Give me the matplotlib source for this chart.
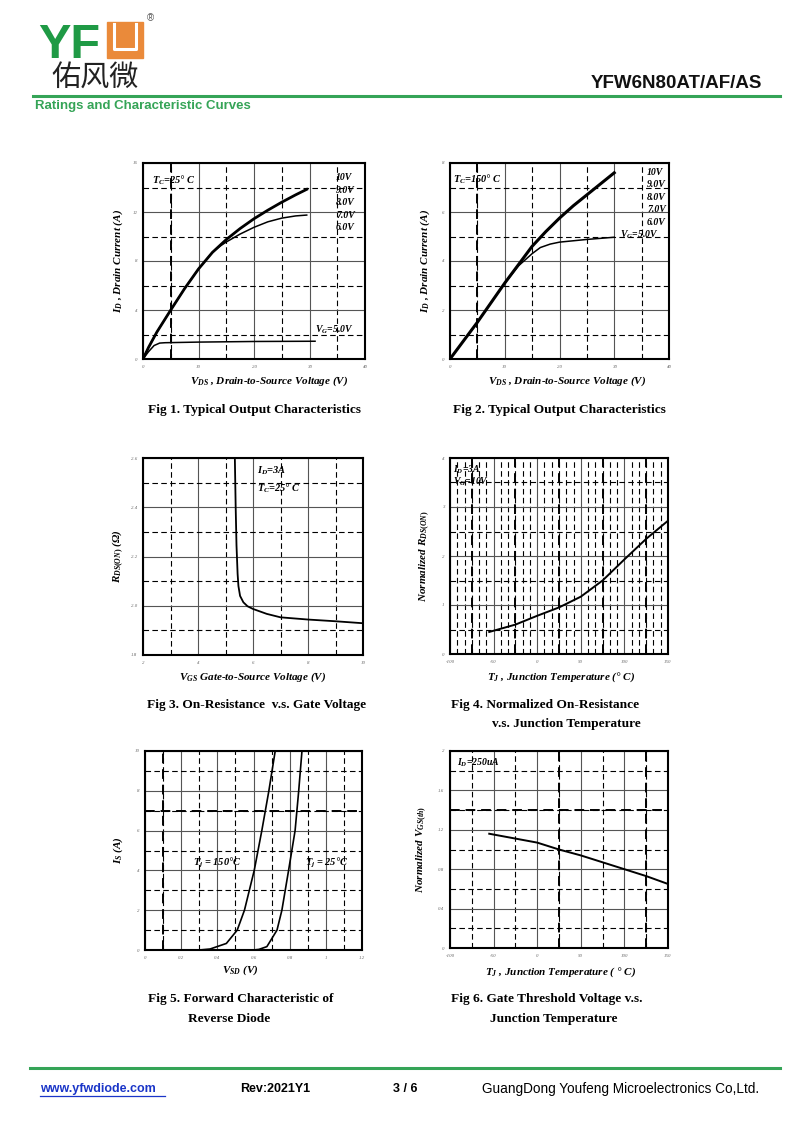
import matplotlib
matplotlib.use('Agg')
import matplotlib.pyplot as plt
from matplotlib.ticker import MultipleLocator
from matplotlib.patches import Rectangle
from matplotlib.lines import Line2D

plt.rcParams['font.family'] = ['Liberation Serif', 'DejaVu Serif']
plt.rcParams['mathtext.fontset'] = 'custom'
plt.rcParams['mathtext.rm'] = 'Liberation Serif:bold'
plt.rcParams['mathtext.it'] = 'Liberation Serif:bold:italic'
plt.rcParams['mathtext.bf'] = 'Liberation Serif:bold'

# ---- data ----
# Fig 1, Tc = 25 C
f1_vds_hi = [0, 1, 2.5, 5, 7.5, 10, 12.5, 15, 17.5, 20, 22.5, 25, 27.5, 29.5]
f1_id_hi = [0, 0.95, 2.2, 4.0, 5.75, 7.35, 8.7, 9.75, 10.65, 11.45, 12.15, 12.8, 13.4, 13.85]
f1_vds_6v = [0, 1, 2.5, 5, 7.5, 10, 12.5, 14, 15, 17.5, 20, 22.5, 25, 27.5, 29.5]
f1_id_6v = [0, 0.95, 2.2, 4.0, 5.75, 7.35, 8.7, 9.25, 9.55, 10.2, 10.75, 11.2, 11.5, 11.68, 11.75]
f1_vds_5v = [0, 1, 2, 3, 4, 10, 20, 31]
f1_id_5v = [0, 0.6, 1.1, 1.3, 1.33, 1.38, 1.43, 1.45]
f1_vgs = ['10V', '9.0V', '8.0V', '7.0V', '6.0V']

# Fig 2, Tc = 150 C
f2_vds_hi = [0, 2.5, 5, 7.5, 10, 12.5, 15, 17.5, 20, 22.5, 25, 27.5, 30]
f2_id_hi = [0, 0.75, 1.5, 2.3, 3.1, 3.85, 4.6, 5.2, 5.75, 6.25, 6.7, 7.15, 7.6]
f2_vds_5v = [0, 2.5, 5, 7.5, 10, 12.5, 15, 16.5, 18.3, 20, 25, 30]
f2_id_5v = [0, 0.75, 1.5, 2.3, 3.1, 3.8, 4.3, 4.55, 4.69, 4.77, 4.88, 4.97]
f2_vgs = ['10V', '9.0V', '8.0V', '7.0V', '6.0V']

# Fig 3, Rds(on) vs Vgs
f3_vgs = [5.34, 5.37, 5.40, 5.44, 5.47, 5.53, 5.65, 5.8, 6.0, 6.5, 7.0, 8.0, 9.0, 10.0]
f3_rds = [2.6, 2.4, 2.245, 2.13, 2.08, 2.04, 2.014, 1.998, 1.987, 1.967, 1.953, 1.944, 1.937, 1.929]

# Fig 4, normalized Rds(on) vs Tj
f4_tj = [-55, -25, 0, 25, 50, 75, 100, 125, 150]
f4_rn = [0.45, 0.6, 0.78, 0.95, 1.17, 1.5, 1.93, 2.35, 2.72]

# Fig 5, body diode forward
f5_vsd_150 = [0.30, 0.36, 0.45, 0.51, 0.55, 0.604, 0.646, 0.685, 0.72]
f5_is_150 = [0.0, 0.05, 0.33, 1.0, 2.0, 4.0, 6.0, 8.0, 10.0]
f5_vsd_25 = [0.60, 0.63, 0.674, 0.73, 0.757, 0.794, 0.83, 0.85, 0.868]
f5_is_25 = [0.0, 0.03, 0.17, 1.0, 2.0, 4.0, 6.0, 8.0, 10.0]

# Fig 6, normalized Vgs(th) vs Tj
f6_tj = [-55, 0, 25, 50, 75, 100, 125, 150]
f6_vn = [1.16, 1.07, 1.0, 0.94, 0.87, 0.80, 0.73, 0.65]

# tick labels
f1_xt = ['0', '10', '20', '30', '40']
f1_yt = ['0', '4', '8', '12', '16']
f2_yt = ['0', '2', '4', '6', '8']
f3_xt = ['2', '4', '6', '8', '10']
f3_yt = ['1.8', '2.0', '2.2', '2.4', '2.6']
f4_xt = ['-100', '-50', '0', '50', '100', '150']
f4_yt = ['0', '1', '2', '3', '4']
f5_xt = ['0', '0.2', '0.4', '0.6', '0.8', '1', '1.2']
f5_yt = ['0', '2', '4', '6', '8', '10']
f6_yt = ['0', '0.4', '0.8', '1.2', '1.6', '2']

W, H = 800, 1130
fig = plt.figure(figsize=(8, 11.3), dpi=100)
GREEN = '#35a457'


def fx(x):
    return x / W


def fy(y):
    return 1 - y / H


def make_ax(l, t, r, b):
    return fig.add_axes([fx(l), fy(b), (r - l) / W, (b - t) / H])


def frame(ax, xticks, xlabels, yticks, ylabels, xminor, yminor):
    ax.set_xlim(xticks[0], xticks[-1])
    ax.set_ylim(yticks[0], yticks[-1])
    ax.set_xticks(xticks, xlabels)
    ax.set_yticks(yticks, ylabels)
    ax.xaxis.set_minor_locator(MultipleLocator(xminor))
    ax.yaxis.set_minor_locator(MultipleLocator(yminor))
    ax.grid(which='major', color='#555555', lw=0.8, ls='-')
    ax.grid(which='minor', color='black', lw=0.8, ls=(0, (5, 3)))
    ax.set_axisbelow(True)
    ax.tick_params(which='both', length=0, labelsize=3.5, labelcolor='#666666', pad=4)
    for lbl in ax.get_xticklabels() + ax.get_yticklabels():
        lbl.set_fontstyle('italic')
    for s in ax.spines.values():
        s.set_linewidth(1.5)


def labels(ax, xl, yl, xpos, xoff, yoff):
    ax.set_xlabel(xl, fontsize=8, fontweight='bold', fontstyle='italic', va='center')
    ax.set_ylabel(yl, fontsize=8, fontweight='bold', fontstyle='italic', va='center')
    ax.xaxis.set_label_coords(xpos, xoff)
    ax.yaxis.set_label_coords(yoff, 0.5)


def note(ax, x, y, s, size=7.5, **kw):
    ax.text(x, y, s, fontsize=size, fontweight='bold', fontstyle='italic', va='center', **kw)


bold_dash = dict(color='black', lw=1.4, ls=(0, (5, 3)))

# ---- Fig 1 ----
ax1 = make_ax(143, 163, 365, 359)
frame(ax1, [0, 10, 20, 30, 40], f1_xt, [0, 4, 8, 12, 16], f1_yt, 5, 2)
ax1.axvline(5, **bold_dash)
ax1.plot(f1_vds_hi, f1_id_hi, color='black', lw=2.0)
ax1.plot(f1_vds_6v, f1_id_6v, color='black', lw=1.1)
ax1.plot(f1_vds_5v, f1_id_5v, color='black', lw=1.1)
for i, s in enumerate(f1_vgs):
    note(ax1, 34.8, 14.8 - i * 1.02, s, size=7)
note(ax1, 31.0, 2.4, r'$V_G$=5.0V', size=7)
note(ax1, 1.6, 14.6, r'$T_C$=25° C')
labels(ax1, r'$V_{DS}$ , Drain-to-Source Voltage (V)', r'$I_D$ , Drain Current (A)', 0.57, -0.112, -0.113)

# ---- Fig 2 ----
ax2 = make_ax(450, 163, 669, 359)
frame(ax2, [0, 10, 20, 30, 40], f1_xt, [0, 2, 4, 6, 8], f2_yt, 5, 1)
ax2.axvline(5, **bold_dash)
ax2.plot(f2_vds_hi, f2_id_hi, color='black', lw=2.2)
ax2.plot(f2_vds_5v, f2_id_5v, color='black', lw=1.1)
for i, s in enumerate(f2_vgs):
    note(ax2, 36.0, 7.63 - i * 0.51, s, size=7)
note(ax2, 31.0, 5.06, r'$V_G$=5.0V', size=7)
note(ax2, 0.6, 7.35, r'$T_C$=150° C')
labels(ax2, r'$V_{DS}$ , Drain-to-Source Voltage (V)', r'$I_D$ , Drain Current (A)', 0.535, -0.112, -0.114)

# ---- Fig 3 ----
ax3 = make_ax(143, 458, 363, 655)
frame(ax3, [2, 4, 6, 8, 10], f3_xt, [1.8, 2.0, 2.2, 2.4, 2.6], f3_yt, 1, 0.1)
ax3.plot(f3_vgs, f3_rds, color='black', lw=1.3)
note(ax3, 6.15, 2.547, r'$I_D$=3A')
note(ax3, 6.15, 2.478, r'$T_C$=25° C')
labels(ax3, r'$V_{GS}$ Gate-to-Source Voltage (V)', r'$R_{DS(ON)}$ (Ω)', 0.5, -0.112, -0.113)

# ---- Fig 4 ----
ax4 = make_ax(450, 458, 668, 654)
frame(ax4, [-100, -50, 0, 50, 100, 150], f4_xt, [0, 1, 2, 3, 4], f4_yt, 50 / 6, 0.5)
for t in [-75, -25, 25, 75, 125]:
    ax4.axvline(t, **bold_dash)
ax4.plot(f4_tj, f4_rn, color='black', lw=1.4)
note(ax4, -97, 3.75, r'$I_D$=3A', size=7)
note(ax4, -97, 3.51, r'$V_G$=10V', size=7)
labels(ax4, r'$T_J$ , Junction Temperature (° C)', r'Normalized $R_{DS(ON)}$', 0.51, -0.117, -0.117)

# ---- Fig 5 ----
ax5 = make_ax(145, 751, 362, 950)
frame(ax5, [0, 0.2, 0.4, 0.6, 0.8, 1.0, 1.2], f5_xt, [0, 2, 4, 6, 8, 10], f5_yt, 0.1, 1)
ax5.axvline(0.1, **bold_dash)
ax5.axhline(7, **bold_dash)
ax5.plot(f5_vsd_150, f5_is_150, color='black', lw=1.2)
ax5.plot(f5_vsd_25, f5_is_25, color='black', lw=1.2)
note(ax5, 0.265, 4.35, r'$T_j$ = 150°C')
note(ax5, 0.885, 4.35, r'$T_j$ = 25°C')
labels(ax5, r'$V_{SD}$ (V)', r'$I_S$ (A)', 0.44, -0.1, -0.124)

# ---- Fig 6 ----
ax6 = make_ax(450, 751, 668, 948)
frame(ax6, [-100, -50, 0, 50, 100, 150], f4_xt, [0, 0.4, 0.8, 1.2, 1.6, 2.0], f6_yt, 25, 0.2)
ax6.axvline(25, **bold_dash)
ax6.axvline(125, **bold_dash)
ax6.axhline(1.4, **bold_dash)
ax6.plot(f6_tj, f6_vn, color='black', lw=1.4)
note(ax6, -92, 1.88, r'$I_D$=250uA', size=7)
labels(ax6, r'$T_J$ , Junction Temperature ( ° C)', r'Normalized $V_{GS(th)}$', 0.505, -0.122, -0.128)

# ---- captions ----
cap = dict(fontsize=9.6, fontweight='bold', ha='center', va='center')
fig.text(fx(255), fy(410), 'Fig 1. Typical Output Characteristics', **cap)
fig.text(fx(559), fy(410), 'Fig 2. Typical Output Characteristics', **cap)
fig.text(fx(257), fy(705), 'Fig 3. On-Resistance  v.s. Gate Voltage', **cap)
fig.text(fx(545), fy(705), 'Fig 4. Normalized On-Resistance', **cap)
fig.text(fx(566), fy(724), 'v.s. Junction Temperature', **cap)
fig.text(fx(241), fy(999), 'Fig 5. Forward Characteristic of', **cap)
fig.text(fx(229), fy(1019), 'Reverse Diode', **cap)
fig.text(fx(547), fy(999), 'Fig 6. Gate Threshold Voltage v.s.', **cap)
fig.text(fx(554), fy(1019), 'Junction Temperature', **cap)

# ---- header ----
fig.text(fx(38), fy(58), 'YF', fontsize=35, fontweight='bold', color='#1f9a45',
         family='Liberation Sans', va='baseline')
fig.patches.append(Rectangle((fx(107), fy(58)), 36 / W, 36 / H, transform=fig.transFigure,
                             color='#ea8a3a'))
fig.lines.append(Line2D([fx(114), fx(114), fx(136), fx(136)], [fy(24), fy(49), fy(49), fy(24)],
                        transform=fig.transFigure, color='white', lw=2.2))
fig.text(fx(150), fy(18), '®', fontsize=7, color='#555555', family='Liberation Sans',
         ha='center', va='center')
fig.text(fx(95), fy(79), '佑风微', fontsize=21, color='#222222', family='Noto Sans CJK SC',
         ha='center', va='center')
fig.text(fx(762), fy(83), 'YFW6N80AT/AF/AS', fontsize=13.5, fontweight='bold',
         family='Liberation Sans', ha='right', va='center', color='#111111')
fig.lines.append(Line2D([fx(33), fx(780)], [fy(96), fy(96)], transform=fig.transFigure,
                        color=GREEN, lw=2.2))
fig.text(fx(35), fy(106), 'Ratings and Characteristic Curves', fontsize=9.5, fontweight='bold',
         family='Liberation Sans', color=GREEN, va='center')

# ---- footer ----
fig.lines.append(Line2D([fx(30), fx(780)], [fy(1068), fy(1068)], transform=fig.transFigure,
                        color=GREEN, lw=2.2))
foot = dict(fontsize=9, family='Liberation Sans', va='center')
fig.text(fx(40), fy(1089), 'www.yfwdiode.com', color='#1a35c8', fontweight='bold', **foot)
fig.lines.append(Line2D([fx(40), fx(165)], [fy(1096), fy(1096)], transform=fig.transFigure,
                        color='#1a35c8', lw=0.9))
fig.text(fx(240), fy(1089), 'Rev:2021Y1', fontweight='bold', **foot)
fig.text(fx(393), fy(1089), '3 / 6', fontweight='bold', **foot)
fig.text(fx(482), fy(1089), 'GuangDong Youfeng Microelectronics Co,Ltd.', fontsize=9.8,
         family='Liberation Sans', va='center')

fig.savefig('out.png', dpi=100)
